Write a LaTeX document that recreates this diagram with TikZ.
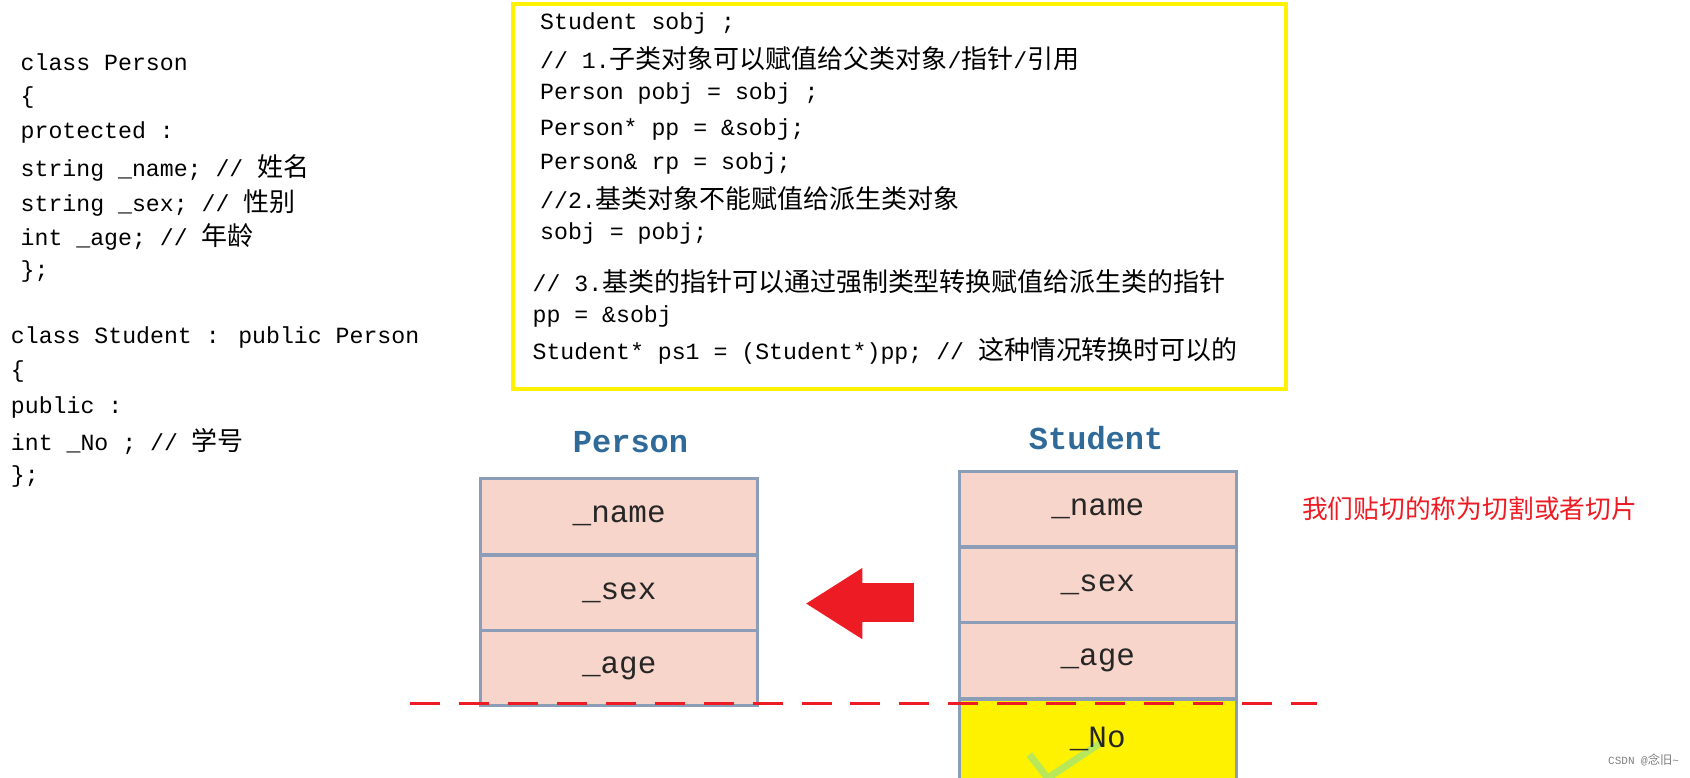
\documentclass[tikz,border=0pt]{standalone}
\usepackage{fontspec}
\setmainfont{Liberation Mono}
\newfontfamily\cjk[Scale=1.12]{Noto Sans CJK SC}
\newcommand{\zh}[1]{{\cjk #1}}
\definecolor{titleblue}{HTML}{2F6A99}
\definecolor{cellfill}{HTML}{F8D5CA}
\definecolor{cellline}{HTML}{8C9DB8}
\definecolor{arrred}{HTML}{ED1C24}
\definecolor{chk}{HTML}{B8E85A}
\begin{document}
\begin{tikzpicture}[x=1.078pt,y=-1.078pt,
  code/.style={anchor=west,inner sep=0pt,font=\fontsize{23.2}{25}\selectfont},
  title/.style={inner sep=0pt,text=titleblue,font=\fontsize{32}{34}\selectfont\bfseries},
  cell/.style={draw=cellline,line width=3pt,fill=cellfill,minimum width=257*1.078pt,minimum height=70*1.078pt,inner sep=0pt,text=black!85,font=\fontsize{31}{33}\selectfont},
  nocell/.style={cell,fill=yellow}]
\useasboundingbox (0,0) rectangle (1568,721);
% left code
\node[code] (l1) at (19,58) {class Person};
\node[code] (l2) at (19,90) {\{};
\node[code] (l3) at (19,123) {protected :};
\node[code] (l4) at (19,156) {string \_name; // \zh{姓名}};
\node[code] (l5) at (19,188) {string \_sex; // \zh{性别}};
\node[code] (l6) at (19,220) {int \_age; // \zh{年龄}};
\node[code] (l7) at (19,252) {\};};
\node[code] (l8) at (10,313) {class Student : public Person};
\node[code] (l9) at (10,345) {\{};
\node[code] (l10) at (10,378) {public :};
\node[code] (l11) at (10,410) {int \_No ; // \zh{学号}};
\node[code] (l12) at (10,442) {\};};
% yellow box
\draw[yellow,line width=4pt] (476,4) rectangle (1193,361);
\node[code] (r1) at (501,22) {Student sobj ;};
\node[code] (r2) at (501,54) {// 1.\zh{子类对象可以赋值给父类对象}/\zh{指针}/\zh{引用}};
\node[code] (r3) at (501,87) {Person pobj = sobj ;};
\node[code] (r4) at (501,120) {Person* pp = \&sobj;};
\node[code] (r5) at (501,152) {Person\& rp = sobj;};
\node[code] (r6) at (501,184) {//2.\zh{基类对象不能赋值给派生类对象}};
\node[code] (r7) at (501,217) {sobj = pobj;};
\node[code] (r8) at (494,261) {// 3.\zh{基类的指针可以通过强制类型转换赋值给派生类的指针}};
\node[code] (r9) at (494,294) {pp = \&sobj};
\node[code] (r10) at (494,326) {Student* ps1 = (Student*)pp; // \zh{这种情况转换时可以的}};
% Person
\node[title] (pt) at (585,410) {Person};
\node[cell] (pn) at (574.5,479) {\_name};
\node[cell] (ps) at (574.5,550) {\_sex};
\node[cell] (pa) at (574.5,620) {\_age};
% Student
\node[title] (st) at (1017,406) {Student};
\node[cell] (sn) at (1018.5,472.5) {\_name};
\node[cell] (ss) at (1018.5,543) {\_sex};
\node[cell] (sa) at (1018.5,613) {\_age};
\node[nocell,minimum height=74*1.078pt] (sno) at (1018.5,686) {};
\begin{scope}
\clip (891,650) rectangle (1146,721);
\draw[chk,line width=7pt] (955,700) -- (972,722) -- (1020,690);
\end{scope}
\node[inner sep=0pt,text=black!85,font=\fontsize{31}{33}\selectfont] (snol) at (1018.5,686) {\_No};
% arrow
\fill[arrred] (748,560) -- (800,527) -- (800,541) -- (848,541) -- (848,577) -- (800,577) -- (800,593) -- cycle;
\coordinate (arr) at (800,560);
% dashed line
\draw[arrred,line width=3pt,dash pattern=on 30pt off 19pt] (380,653) -- (1222,653);
% red note
\node[inner sep=0pt,anchor=west,text=arrred,font=\fontsize{23}{25}\selectfont] (note) at (1208,472) {\zh{我们贴切的称为切割或者切片}};
\node[inner sep=0pt,anchor=east,text=black!50,font=\fontsize{11}{12}\selectfont] (csdn) at (1558,705) {CSDN @\zh{念旧}\textasciitilde};
\end{tikzpicture}
\end{document}
